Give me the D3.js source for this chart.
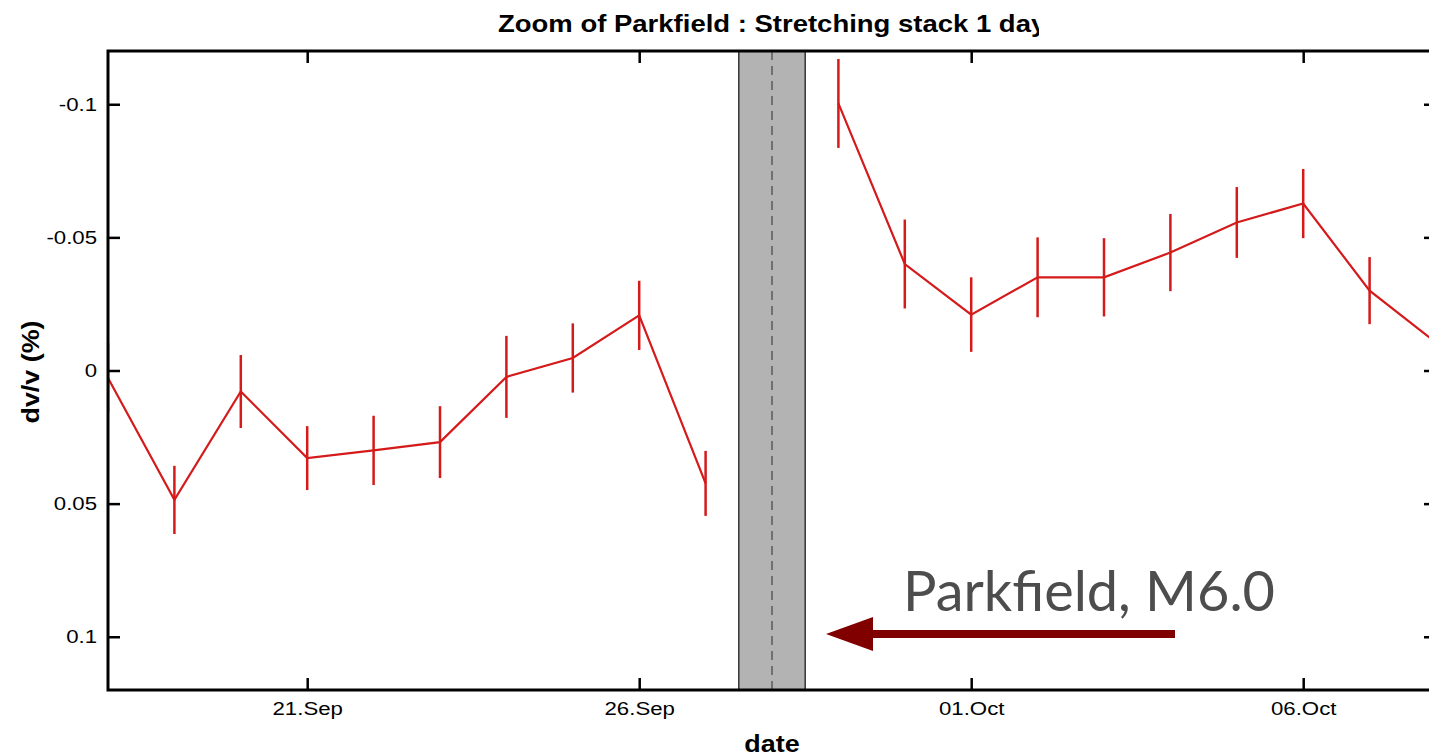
<!DOCTYPE html>
<html>
<head>
<meta charset="utf-8">
<script src="https://cdn.jsdelivr.net/npm/d3@7"></script>
<style>
  body { margin: 0; background: #fff; }
  text { font-family: "Liberation Sans", Arial, sans-serif; }
</style>
</head>
<body>
<script>
// dv/v values (percent) per day, 28 Sep has no measurement
var dates = ["2004-09-18","2004-09-19","2004-09-20","2004-09-21","2004-09-22","2004-09-23",
             "2004-09-24","2004-09-25","2004-09-26","2004-09-27","2004-09-28","2004-09-29",
             "2004-09-30","2004-10-01","2004-10-02","2004-10-03","2004-10-04","2004-10-05",
             "2004-10-06","2004-10-07","2004-10-08"];
var dvv = [0.0028, 0.0486, 0.0079, 0.0329, 0.0300, 0.0269, 0.0024, -0.0047, -0.0207, 0.0424,
           null, -0.1003, -0.0400, -0.0210, -0.0350, -0.0350, -0.0443, -0.0556, -0.0627, -0.0300, -0.0105];
var err = [0.013, 0.0128, 0.0137, 0.0120, 0.0130, 0.0135, 0.0154, 0.0130, 0.0130, 0.0122,
           null, 0.0167, 0.0167, 0.0140, 0.0150, 0.0147, 0.0145, 0.0133, 0.0130, 0.0126, 0.013];
var xTicks = ["2004-09-21","2004-09-26","2004-10-01","2004-10-06"];
var yTicks = [-0.1, -0.05, 0, 0.05, 0.1];
var quake = "2004-09-28T00:00";
var quakeWindow = ["2004-09-27T12:00", "2004-09-28T12:00"];

var parse = d3.utcParse("%Y-%m-%d");
var parseT = d3.utcParse("%Y-%m-%dT%H:%M");

var data = dates.map(function(d, i) {
  return {date: parse(d), v: dvv[i], e: err[i]};
});

var width = 1429, height = 756;
var pLeft = 108, pRight = 1436, pTop = 51, pBottom = 690;
var stretch = 1.17;   // the original lettering is wide

var x = d3.scaleUtc()
  .domain([parse("2004-09-18"), parse("2004-10-08")])
  .range([pLeft, pRight]);
var y = d3.scaleLinear()
  .domain([-0.12, 0.12])
  .range([pTop, pBottom]);

var svg = d3.select("body").append("svg")
  .attr("width", width)
  .attr("height", height);

svg.append("clipPath").attr("id", "plot")
  .append("rect").attr("x", pLeft).attr("y", pTop)
  .attr("width", pRight - pLeft).attr("height", pBottom - pTop);

svg.append("clipPath").attr("id", "titleclip")
  .append("rect").attr("x", 0).attr("y", 0).attr("width", 1039).attr("height", 45);

// earthquake window
var plot = svg.append("g").attr("clip-path", "url(#plot)");
plot.append("rect")
  .attr("x", x(parseT(quakeWindow[0])))
  .attr("y", pTop)
  .attr("width", x(parseT(quakeWindow[1])) - x(parseT(quakeWindow[0])))
  .attr("height", pBottom - pTop)
  .attr("fill", "#b3b3b3")
  .attr("stroke", "#333")
  .attr("stroke-width", 1.5);
plot.append("line")
  .attr("x1", x(parseT(quake))).attr("x2", x(parseT(quake)))
  .attr("y1", pTop).attr("y2", pBottom)
  .attr("stroke", "#707070")
  .attr("stroke-width", 2)
  .attr("stroke-dasharray", "9,6");

// error bars
plot.selectAll(".err")
  .data(data.filter(function(d) { return d.v !== null; }))
  .enter().append("line")
  .attr("class", "err")
  .attr("x1", function(d) { return x(d.date); })
  .attr("x2", function(d) { return x(d.date); })
  .attr("y1", function(d) { return y(d.v - d.e); })
  .attr("y2", function(d) { return y(d.v + d.e); })
  .attr("stroke", "#d41a1a")
  .attr("stroke-width", 2.5);

var line = d3.line()
  .defined(function(d) { return d.v !== null; })
  .x(function(d) { return x(d.date); })
  .y(function(d) { return y(d.v); });
plot.append("path")
  .attr("d", line(data))
  .attr("fill", "none")
  .attr("stroke", "#d41a1a")
  .attr("stroke-width", 2.2);

// axes with inward ticks
var fmtDate = d3.utcFormat("%d.%b");
var xb = svg.append("g").attr("transform", "translate(0," + pBottom + ")")
  .call(d3.axisBottom(x).tickValues(xTicks.map(parse)).tickSize(-12).tickPadding(12).tickFormat(fmtDate));
var xt = svg.append("g").attr("transform", "translate(0," + pTop + ")")
  .call(d3.axisTop(x).tickValues(xTicks.map(parse)).tickSize(-12).tickFormat(""));
var yl = svg.append("g").attr("transform", "translate(" + pLeft + ",0)")
  .call(d3.axisLeft(y).tickValues(yTicks).tickSize(-12).tickPadding(10)
    .tickFormat(function(d) { return String(d); }));
var yr = svg.append("g").attr("transform", "translate(" + pRight + ",0)")
  .call(d3.axisRight(y).tickValues(yTicks).tickSize(-12).tickFormat(""));

[xb, xt, yl, yr].forEach(function(g) {
  g.select(".domain").remove();
  g.selectAll(".tick line").attr("stroke", "#000").attr("stroke-width", 2.5);
  g.selectAll(".tick text")
    .attr("fill", "#000")
    .style("font-family", "Liberation Sans, Arial, sans-serif")
    .style("font-size", "19px");
});
xb.selectAll(".tick text").attr("transform", "scale(" + stretch + ",1)");
yl.selectAll(".tick text").attr("transform", "scale(" + stretch + ",1)").attr("x", -11 / stretch);

svg.append("rect")
  .attr("x", pLeft).attr("y", pTop)
  .attr("width", pRight - pLeft).attr("height", pBottom - pTop)
  .attr("fill", "none")
  .attr("stroke", "#000")
  .attr("stroke-width", 3);

// titles
svg.append("g").attr("clip-path", "url(#titleclip)")
  .append("text")
  .attr("transform", "translate(498,32) scale(" + stretch + ",1)")
  .style("font-size", "23.5px")
  .style("font-weight", "bold")
  .text("Zoom of Parkfield : Stretching stack 1 day");

svg.append("text")
  .attr("transform", "translate(772,752) scale(" + stretch + ",1)")
  .attr("text-anchor", "middle")
  .style("font-size", "23px")
  .style("font-weight", "bold")
  .text("date");

svg.append("text")
  .attr("transform", "translate(39,372) rotate(-90) scale(" + stretch + ",1)")
  .attr("text-anchor", "middle")
  .style("font-size", "23px")
  .style("font-weight", "bold")
  .text("dv/v (%)");

// annotation
svg.append("text")
  .attr("x", 903).attr("y", 611)
  .attr("textLength", 372)
  .attr("lengthAdjust", "spacingAndGlyphs")
  .style("font-family", "Lato, 'Noto Sans', sans-serif")
  .style("font-size", "56px")
  .attr("fill", "#4d4d4d")
  .text("Parkfield, M6.0");

svg.append("line")
  .attr("x1", 1175).attr("x2", 868)
  .attr("y1", 634).attr("y2", 634)
  .attr("stroke", "#800000")
  .attr("stroke-width", 8);
svg.append("path")
  .attr("d", "M826,634 L873,617 L873,651 Z")
  .attr("fill", "#800000");
</script>
</body>
</html>
